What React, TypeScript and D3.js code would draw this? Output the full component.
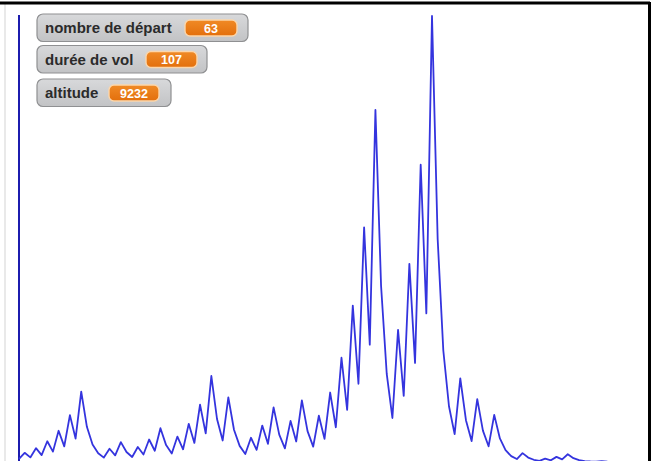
import React from "react";
import * as d3 from "d3";

const W = 652;
const H = 461;

// Collatz ("Syracuse") flight starting at 63
const altitudes: number[] = [
  63, 190, 95, 286, 143, 430, 215, 646, 323, 970, 485, 1456, 728, 364, 182, 91,
  274, 137, 412, 206, 103, 310, 155, 466, 233, 700, 350, 175, 526, 263, 790, 395,
  1186, 593, 1780, 890, 445, 1336, 668, 334, 167, 502, 251, 754, 377, 1132, 566,
  283, 850, 425, 1276, 638, 319, 958, 479, 1438, 719, 2158, 1079, 3238, 1619,
  4858, 2429, 7288, 3644, 1822, 911, 2734, 1367, 4102, 2051, 6154, 3077, 9232,
  4616, 2308, 1154, 577, 1732, 866, 433, 1300, 650, 325, 976, 488, 244, 122, 61,
  184, 92, 46, 23, 70, 35, 106, 53, 160, 80, 40, 20, 10, 5, 16, 8, 4, 2, 1,
];

const monitorLabels: string[] = ["nombre de départ", "durée de vol", "altitude"];
const monitorValues: string[] = ["63", "107", "9232"];

export default function App() {
  const x = d3.scaleLinear().domain([0, 73]).range([19, 432]);
  const y = d3.scaleLinear().domain([0, 9232]).range([462, 16]);
  const line = d3
    .line<number>()
    .x((_, i) => x(i))
    .y((d) => y(d));

  const boxes = [
    { x: 37, y: 14, w: 211, pillX: 185, pillW: 52 },
    { x: 37, y: 45.5, w: 170, pillX: 146, pillW: 51 },
    { x: 37, y: 79, w: 134, pillX: 109, pillW: 50 },
  ];

  return (
    <svg
      width={W}
      height={H}
      style={{ position: "fixed", left: 0, top: 0, background: "#fff" }}
      fontFamily="'Liberation Sans', Arial, sans-serif"
    >
      <defs>
        <linearGradient id="boxg" x1="0" y1="0" x2="0" y2="1">
          <stop offset="0" stopColor="#d8d9db" />
          <stop offset="1" stopColor="#c2c3c5" />
        </linearGradient>
        <linearGradient id="pillg" x1="0" y1="0" x2="0" y2="1">
          <stop offset="0" stopColor="#f08a26" />
          <stop offset="1" stopColor="#e36f0c" />
        </linearGradient>
      </defs>
      <rect x={0} y={0} width={W} height={H} fill="#fff" />
      {/* frame */}
      <line x1={5} y1={4} x2={5} y2={H} stroke="#e2e2e2" strokeWidth={1.5} />
      <line x1={0} y1={3} x2={650} y2={3} stroke="#000" strokeWidth={3} />
      <line x1={649.5} y1={2} x2={649.5} y2={H} stroke="#000" strokeWidth={3} />
      {/* vertical axis drawn by the pen */}
      <line x1={x(0)} y1={y(9232) - 1} x2={x(0)} y2={H} stroke="#1c1cae" strokeWidth={2} />
      {/* flight curve */}
      <path
        d={line(altitudes) || ""}
        fill="none"
        stroke="#3434de"
        strokeWidth={1.8}
        strokeLinejoin="round"
      />
      {/* variable monitors */}
      {boxes.map((b, i) => (
        <g key={i}>
          <rect
            x={b.x}
            y={b.y}
            width={b.w}
            height={27.5}
            rx={6}
            fill="url(#boxg)"
            stroke="#8f9092"
            strokeWidth={1.2}
          />
          <text x={b.x + 8} y={b.y + 19} fontSize={15} fontWeight="bold" fill="#2b2b2b">
            {monitorLabels[i]}
          </text>
          <rect
            x={b.pillX}
            y={b.y + 6}
            width={b.pillW}
            height={16}
            rx={5}
            fill="url(#pillg)"
            stroke="#fcd6aa"
            strokeWidth={1.4}
          />
          <text
            x={b.pillX + b.pillW / 2}
            y={b.y + 18.5}
            fontSize={12.5}
            fontWeight="bold"
            fill="#fff"
            textAnchor="middle"
          >
            {monitorValues[i]}
          </text>
        </g>
      ))}
    </svg>
  );
}
